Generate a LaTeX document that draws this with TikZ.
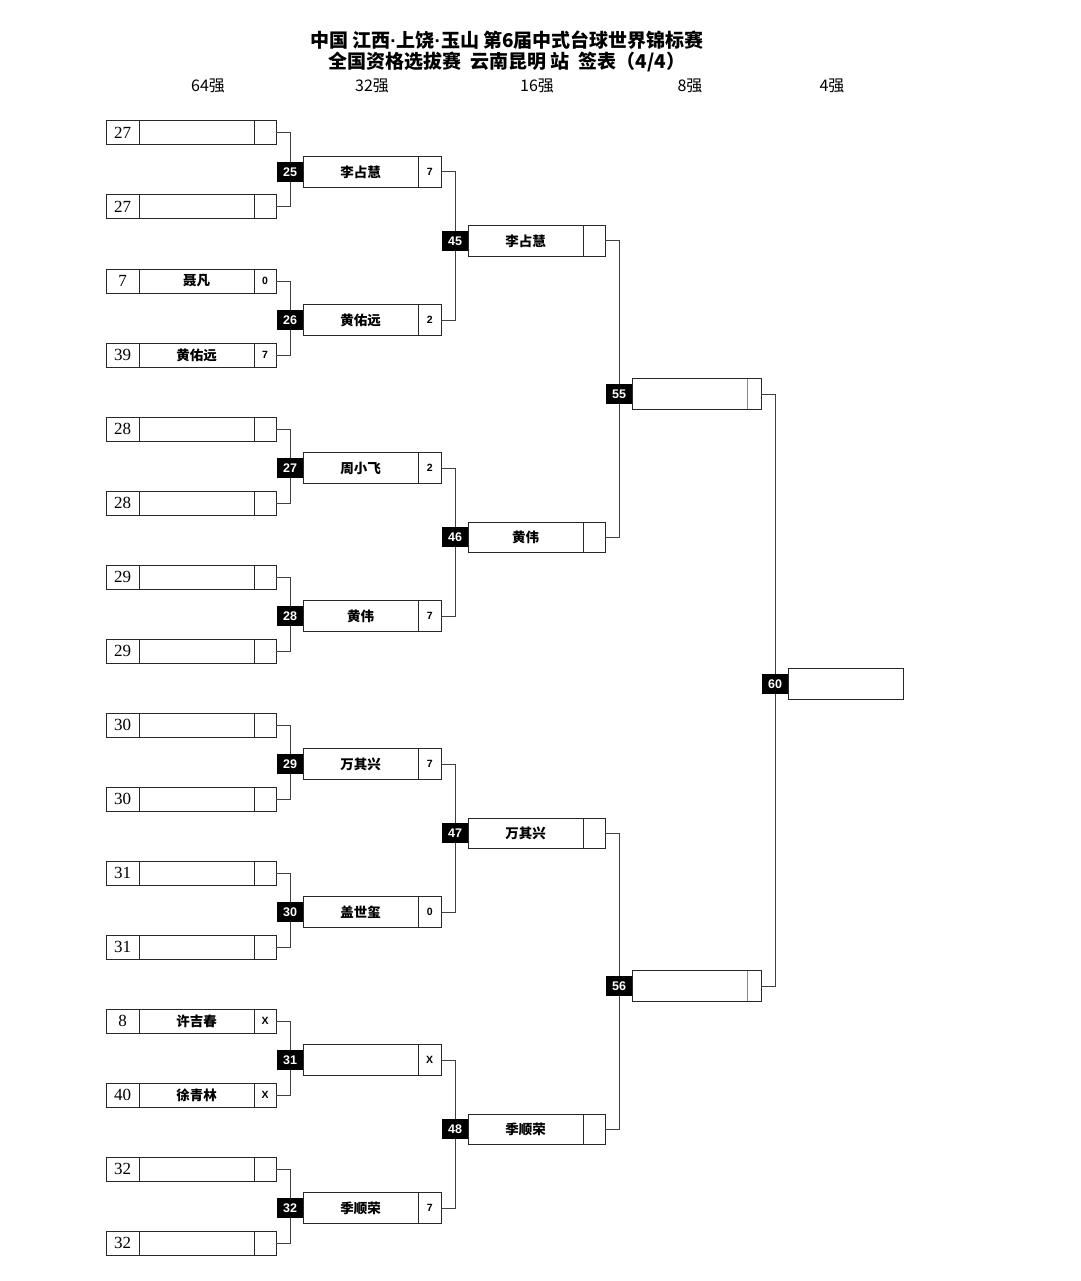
\documentclass[tikz,border=0pt]{standalone}
\usepackage{fontspec}
\setmainfont{Liberation Sans}
\newfontfamily\cjk{Noto Sans CJK SC}
\newfontfamily\seedfont{Liberation Serif}
\usetikzlibrary{positioning}
\definecolor{boxline}{HTML}{282828}
\definecolor{wireline}{HTML}{404040}
\newcommand{\latdot}{{\fontspec{Liberation Sans}\bfseries·}}

\begin{document}
\begin{tikzpicture}[
    x=1pt, y=-1pt,
    cell/.style={draw=boxline, line width=1pt, fill=white, inner sep=0pt, outer sep=0pt, minimum height=24pt},
    seedcell/.style={cell, minimum width=33pt, font=\seedfont\fontsize{17}{17}\selectfont},
    namecell/.style={cell, minimum width=115pt, font=\cjk\bfseries\fontsize{13.5}{14}\selectfont},
    scorecell/.style={cell, minimum width=22pt, font=\bfseries\fontsize{10.5}{11}\selectfont},
    tall/.style={minimum height=31pt},
    match/.style={fill=black, text=white, minimum width=26pt, minimum height=20pt, inner sep=0pt, font=\bfseries\fontsize{12.5}{13}\selectfont},
    wire/.style={draw=wireline, line width=1pt},
    head/.style={font=\cjk\fontsize{16}{16}\selectfont},
    title/.style={font=\cjk\bfseries\fontsize{19}{19}\selectfont, inner sep=0pt}
]
  \fill[white] (0,0) rectangle (1080,1281);
  \useasboundingbox (0,0) rectangle (1080,1281);

  % Title and round headers
  \node (title1) [title] at (507,40) {中国 江西\latdot 上饶\latdot 玉山 第6届中式台球世界锦标赛};
  \node (title2) [title] at (507,62) {全国资格选拔赛 \ 云南昆明 站 \ 签表（4/4）};
  \foreach \hx/\htext [count=\h] in {208/64强, 372/32强, 537/16强, 690/8强, 832/4强}
    \node (head\h) [head] at (\hx,86) {\htext};

  % Round of 64
  \foreach \i/\seed/\name/\score in {0/27/{}/{}, 1/27/{}/{}, 2/7/聂凡/0, 3/39/黄佑远/7,
      4/28/{}/{}, 5/28/{}/{}, 6/29/{}/{}, 7/29/{}/{}, 8/30/{}/{}, 9/30/{}/{},
      10/31/{}/{}, 11/31/{}/{}, 12/8/许吉春/X, 13/40/徐青林/X, 14/32/{}/{}, 15/32/{}/{}} {
    \node (s\i) [seedcell] at (122.5,{133+74*\i}) {\seed};
    \node (n\i) [namecell, right=0pt of s\i] {\name};
    \node (r\i) [scorecell, right=0pt of n\i] {\score};
  }

  % Round of 32
  \foreach \j/\lab/\name/\score [evaluate=\j as \a using int(2*\j), evaluate=\j as \b using int(2*\j+1)]
      in {0/25/李占慧/7, 1/26/黄佑远/2, 2/27/周小飞/2, 3/28/黄伟/7,
          4/29/万其兴/7, 5/30/盖世玺/0, 6/31/{}/X, 7/32/季顺荣/7} {
    \node (m\lab) [match] at (290,{172+148*\j}) {\lab};
    \node (p\j) [namecell, tall, anchor=west] at (m\lab.east) {\name};
    \node (q\j) [scorecell, tall, minimum width=23pt, right=0pt of p\j] {\score};
    \draw [wire] (r\a.east) -| (m\lab.north);
    \draw [wire] (r\b.east) -| (m\lab.south);
  }

  % Round of 16
  \foreach \k/\lab/\name [evaluate=\k as \a using int(2*\k), evaluate=\k as \b using int(2*\k+1)]
      in {0/45/李占慧, 1/46/黄伟, 2/47/万其兴, 3/48/季顺荣} {
    \node (m\lab) [match] at (455,{241+296*\k}) {\lab};
    \node (u\k) [namecell, tall, minimum height=30pt, anchor=west] at (m\lab.east) {\name};
    \node (v\k) [scorecell, tall, minimum height=30pt, right=0pt of u\k] {};
    \draw [wire] (q\a.east) -| (m\lab.north);
    \draw [wire] (q\b.east) -| (m\lab.south);
  }

  % Quarter finals
  \foreach \k/\lab/\ly [evaluate=\k as \a using int(2*\k), evaluate=\k as \b using int(2*\k+1)]
      in {0/55/394, 1/56/986} {
    \node (m\lab) [match] at (619,\ly) {\lab};
    \node (w\k) [namecell, tall, anchor=west] at (m\lab.east) {};
    \node (z\k) [scorecell, tall, minimum width=14pt, draw=boxline!55, right=0pt of w\k] {};
    \draw [boxline, line width=1pt] (z\k.north west) -- (z\k.north east) -- (z\k.south east) -- (z\k.south west);
    \draw [wire] (v\a.east) -| (m\lab.north);
    \draw [wire] (v\b.east) -| (m\lab.south);
  }

  % Semi final
  \node (m60) [match] at (775,684) {60};
  \node (final) [namecell, tall, anchor=west] at (m60.east) {};
  \draw [wire] (z0.east) -| (m60.north);
  \draw [wire] (z1.east) -| (m60.south);

\end{tikzpicture}
\end{document}
